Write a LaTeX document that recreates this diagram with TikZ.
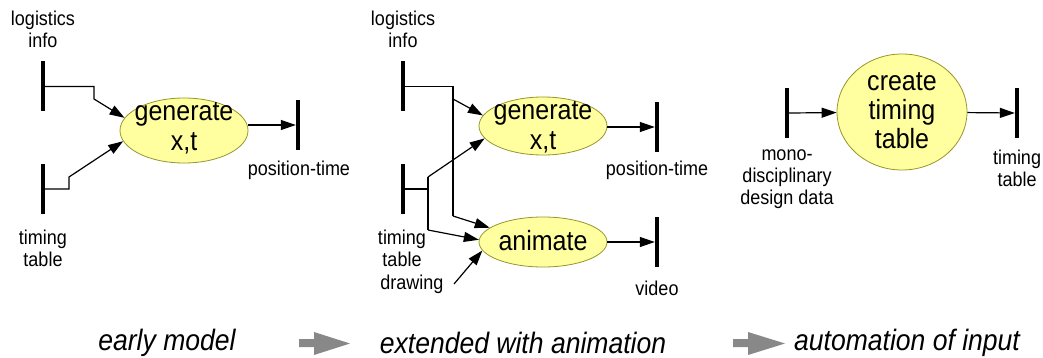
\documentclass[tikz,border=0pt]{standalone}
\usepackage{fontspec}
\setmainfont{Liberation Sans}[FakeStretch=0.9]
\usetikzlibrary{shapes.geometric,arrows.meta}
\definecolor{procfill}{RGB}{255,255,160}
\definecolor{procdraw}{RGB}{150,150,40}
\definecolor{flowgray}{RGB}{136,136,136}
\begin{document}
\begin{tikzpicture}[x=1pt,y=-1pt,
 bar/.style={rectangle,fill=black,inner sep=0,minimum width=4pt,minimum height=50pt},
 proc/.style={ellipse,draw=procdraw,fill=procfill,line width=0.8pt,inner sep=0},
 proctext/.style={font=\fontsize{27.8}{30}\selectfont,align=center,inner sep=0},
 lbl/.style={font=\fontsize{20}{22}\selectfont,align=center,inner sep=0},
 captext/.style={font=\fontsize{29.5}{32}\selectfont\itshape,inner sep=0},
 conn/.style={line width=1.2pt,-{Triangle[length=15pt,width=10pt]}},
 wire/.style={line width=1.2pt},
 flow/.style={fill=flowgray},
]
\useasboundingbox (0,0) rectangle (1043,358);

% ---------- panel 1 ----------
\node[lbl] (li1) at (43,29) {logistics\\info};
\node[bar] (lb1) at (43,86.5) {};
\node[bar] (tb1) at (43,189) {};
\node[lbl] (tt1) at (43,248) {timing\\table};
\node[proc,minimum width=128pt,minimum height=65pt] (gen1) at (184,130.5) {};
\node[proctext] (gen1t) at (184,128) {generate\\x,t};
\node[bar] (pt1) at (298,125) {};
\node[lbl] (pt1l) at (299,170) {position-time};
\coordinate (a1) at (94,86.5);
\coordinate (a2) at (94,99);
\coordinate (b1) at (69,189);
\coordinate (b2) at (69,177);
\draw[conn] (lb1.east) -- (a1) -- (a2) -- (gen1.168);
\draw[conn] (tb1.east) -- (b1) -- (b2) -- (gen1.190);
\draw[conn] (gen1.east |- pt1.west) -- (pt1.west);

% ---------- panel 2 ----------
\node[lbl] (li2) at (403,29) {logistics\\info};
\node[bar] (lb2) at (403,86.5) {};
\node[bar] (tb2) at (403,189) {};
\node[lbl] (tt2) at (402,248) {timing\\table};
\node[lbl] (dr2) at (412,284) {drawing};
\node[proc,minimum width=128pt,minimum height=58pt] (gen2) at (543,126) {};
\node[proctext] (gen2t) at (543,127.5) {generate\\x,t};
\node[proc,minimum width=128pt,minimum height=50pt] (anim) at (543,242) {};
\node[proctext] (animt) at (543,241) {animate};
\node[bar] (pt2) at (657,127) {};
\node[lbl] (pt2l) at (657,170) {position-time};
\node[bar] (vb) at (657,242) {};
\node[lbl] (vbl) at (657,288) {video};
\coordinate (la) at (453,86.5);
\coordinate (lb) at (453,99);
\coordinate (lc) at (453,216);
\draw[wire] (lb2.east) -- (la) -- (lc);
\draw[conn] (lb) -- (gen2.170);
\draw[conn] (lc) -- (anim.165);
\coordinate (ta) at (428,189);
\coordinate (tb) at (428,177);
\coordinate (tc) at (428,230);
\draw[wire] (tb2.east) -- (ta);
\draw[wire] (tb) -- (tc);
\draw[conn] (tb) -- (gen2.192);
\draw[conn] (tc) -- (anim.178);
\coordinate (dp) at (454,284);
\draw[conn] (dp) -- (anim.188);
\draw[conn] (gen2.east |- pt2.west) -- (pt2.west);
\draw[conn] (anim.east) -- (vb.west);

% ---------- panel 3 ----------
\node[bar] (md) at (787,113) {};
\node[lbl] (mdl) at (787,179.5) {mono-\\disciplinary\\design data};
\node[proc,minimum width=130pt,minimum height=116pt] (ctt) at (902,112) {};
\node[proctext,font=\fontsize{27.8}{29}\selectfont] (cttt) at (902,111) {create\\timing\\table};
\node[bar] (ttb) at (1017,113) {};
\node[lbl] (ttbl) at (1017,168) {timing\\table};
\draw[conn] (md.east) -- (ctt);
\draw[conn] (ctt) -- (ttb.west);

% ---------- captions ----------
\node[captext] (c1) at (167,343) {early model};
\node[captext] (c2) at (523,343) {extended with animation};
\node[captext] (c3) at (907,343) {automation of input};
\fill[flow] (299,339) -- (314,339) -- (314,332) -- (350,343.5) -- (314,355) -- (314,347) -- (299,347) -- cycle;
\fill[flow] (733,339) -- (748,339) -- (748,332) -- (785,343.5) -- (748,355) -- (748,347) -- (733,347) -- cycle;
\end{tikzpicture}
\end{document}
